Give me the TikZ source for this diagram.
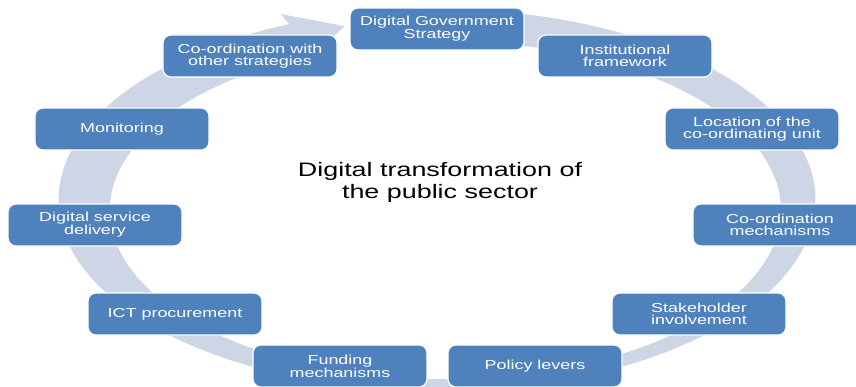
\documentclass[tikz,border=0pt]{standalone}
\usepackage{fontspec}
\setmainfont{Liberation Sans}[FakeStretch=1.38]
\definecolor{boxblue}{RGB}{79,129,189}
\definecolor{ringgray}{RGB}{206,214,230}
\tikzset{
  stepbox/.style={draw=white, line width=1.2pt, fill=boxblue, rounded corners=8pt,
    minimum width=174pt, minimum height=42pt, align=center, text=white,
    font=\fontsize{13pt}{11.5pt}\selectfont},
  centretext/.style={align=center, font=\fontsize{19.5pt}{22pt}\selectfont}
}
\begin{document}
\begin{tikzpicture}[x=1pt,y=1pt]
\useasboundingbox (0,0) rectangle (856,386);
% ring with arrow head
\begin{scope}[shift={(437,186)}]
\fill[ringgray]
(88:378.5 and 191) arc[start angle=88, end angle=-247, x radius=378.5pt, y radius=191pt]
-- (-247:400 and 202) -- (-255:357 and 180) -- (-247:314 and 158)
arc[start angle=-247, end angle=88, x radius=335.5pt, y radius=169pt] -- cycle;
\end{scope}
\node[centretext] (title) at (440,204) {Digital transformation of\\the public sector};
\node[stepbox] (strategy)    at (437,357) {Digital Government\\Strategy};
\node[stepbox] (framework)   at (625,330) {Institutional\\framework};
\node[stepbox] (location)    at (752,257) {Location of the\\co-ordinating unit};
\node[stepbox] (mechanisms)  at (780,161) {Co-ordination\\mechanisms};
\node[stepbox] (stakeholder) at (699,72)  {Stakeholder\\involvement};
\node[stepbox] (levers)      at (535,20)  {Policy levers};
\node[stepbox] (funding)     at (340,20)  {Funding\\mechanisms};
\node[stepbox] (procurement) at (175,72)  {ICT procurement};
\node[stepbox] (delivery)    at (95,161)  {Digital service\\delivery};
\node[stepbox] (monitoring)  at (122,257) {Monitoring};
\node[stepbox] (otherstrat)  at (250,330) {Co-ordination with\\other strategies};
\end{tikzpicture}
\end{document}
